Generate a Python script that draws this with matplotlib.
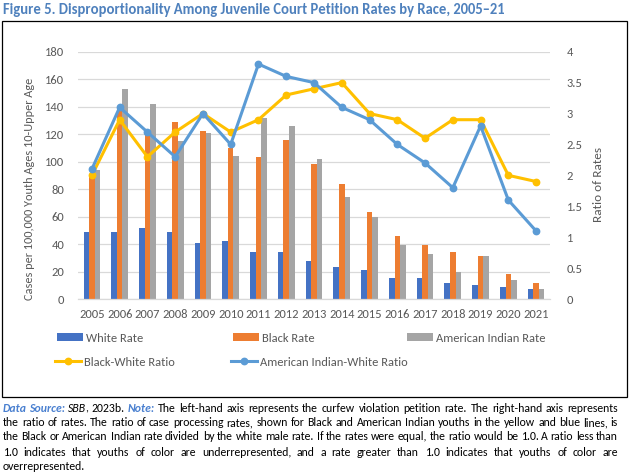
import matplotlib
matplotlib.use("Agg")
import matplotlib.pyplot as plt
from matplotlib import font_manager
from matplotlib.patches import Rectangle, Patch
from matplotlib.lines import Line2D
import numpy as np

# ---------------- data ----------------
years = [str(y) for y in range(2005, 2022)]
white_rate = [49, 49, 52, 49, 41, 42, 34, 34, 28, 23, 21, 15, 15, 12, 10, 9, 7]
black_rate = [90, 138, 121, 129, 122, 110, 103, 116, 98, 84, 63, 46, 39, 34, 31, 18, 12]
ai_rate = [94, 153, 142, 115, 121, 104, 132, 126, 102, 74, 60, 39, 33, 20, 31, 14, 7]
bw_ratio = [2.0, 2.9, 2.3, 2.7, 3.0, 2.7, 2.9, 3.3, 3.4, 3.5, 3.0, 2.9, 2.6, 2.9, 2.9, 2.0, 1.9]
aiw_ratio = [2.1, 3.1, 2.7, 2.3, 3.0, 2.5, 3.8, 3.6, 3.5, 3.1, 2.9, 2.5, 2.2, 1.8, 2.8, 1.6, 1.1]
left_ticks = list(range(0, 181, 20))
right_ticks = [0, 0.5, 1, 1.5, 2, 2.5, 3, 3.5, 4]
right_tick_labels = ["0", "0.5", "1", "1.5", "2", "2.5", "3", "3.5", "4"]

# ---------------- fonts ----------------
def pick_font(cands):
    for c in cands:
        try:
            font_manager.findfont(font_manager.FontProperties(family=c), fallback_to_default=False)
            return c
        except Exception:
            pass
    return "DejaVu Sans"

FONT = pick_font(["Carlito", "Liberation Sans Narrow", "Liberation Sans"])
plt.rcParams["font.family"] = [FONT, "DejaVu Sans"]

W, H = 633, 474
DPI = 100
fig = plt.figure(figsize=(W / DPI, H / DPI), dpi=DPI)

def fx(px):
    return px / W

def fy(py):
    return 1 - py / H

GRAY_TXT = "#595959"
GRID = "#D9D9D9"
C_WHITE = "#4472C4"
C_BLACK = "#ED7D31"
C_AI = "#A5A5A5"
C_BW = "#FFC000"
C_AIW = "#5B9BD5"
TITLE_BLUE = "#4F81BD"
NOTE_BLUE = "#4A80D0"

# frame box
fig.add_artist(Rectangle((fx(2), fy(397)), fx(627) - fx(2), fy(21) - fy(397),
                         transform=fig.transFigure, fill=False, edgecolor="black", linewidth=0.9))

# title
fig.text(fx(3), fy(10), "Figure 5. Disproportionality Among Juvenile Court Petition Rates by Race, 2005\u201321",
         fontsize=10.5, fontweight="bold", color=TITLE_BLUE, ha="left", va="center")

# ---------------- axes ----------------
left, right, top, bottom = 78, 550, 51.7, 299
ax = fig.add_axes([fx(left), fy(bottom), fx(right) - fx(left), fy(top) - fy(bottom)])
x = np.arange(len(years))
bw = 0.2
ax.bar(x - bw, white_rate, bw, color=C_WHITE, zorder=2)
ax.bar(x, black_rate, bw, color=C_BLACK, zorder=2)
ax.bar(x + bw, ai_rate, bw, color=C_AI, zorder=2)
ax.set_xlim(-0.5, len(years) - 0.5)
ax.set_ylim(0, 180)
ax.set_yticks(left_ticks)
ax.set_xticks(x)
ax.set_xticklabels(years)
ax.yaxis.grid(True, color=GRID, linewidth=0.9, zorder=0)
ax.set_axisbelow(True)
for s in ["top", "right", "left"]:
    ax.spines[s].set_visible(False)
ax.spines["bottom"].set_color(GRID)
ax.spines["bottom"].set_linewidth(0.9)
ax.tick_params(axis="both", length=0, labelsize=9, colors=GRAY_TXT)
ax.tick_params(axis="y", pad=10)
ax.tick_params(axis="x", pad=7)

ax2 = ax.twinx()
ax2.plot(x, bw_ratio, color=C_BW, linewidth=2.2, marker="o", markersize=4.6, zorder=3)
ax2.plot(x, aiw_ratio, color=C_AIW, linewidth=2.2, marker="o", markersize=4.6, zorder=3)
ax2.set_ylim(0, 4)
ax2.set_yticks(right_ticks)
ax2.set_yticklabels(right_tick_labels)
for s in ["top", "right", "left", "bottom"]:
    ax2.spines[s].set_visible(False)
ax2.tick_params(axis="y", length=0, labelsize=9, colors=GRAY_TXT, pad=12)

fig.text(fx(30), fy(189), "Cases per 100,000 Youth Ages 10-Upper Age", rotation=90,
         fontsize=8.8, color=GRAY_TXT, ha="center", va="center")
fig.text(fx(598), fy(184), "Ratio of Rates", rotation=90,
         fontsize=9.5, color=GRAY_TXT, ha="center", va="center")

# ---------------- legend ----------------
entries = [
    (Patch(facecolor=C_WHITE), "White Rate", 57, 338),
    (Patch(facecolor=C_BLACK), "Black Rate", 233, 338),
    (Patch(facecolor=C_AI), "American Indian Rate", 407, 338),
    (Line2D([], [], color=C_BW, linewidth=2.2, marker="o", markersize=4.6), "Black-White Ratio", 55, 362),
    (Line2D([], [], color=C_AIW, linewidth=2.2, marker="o", markersize=4.6), "American Indian-White Ratio", 231, 362),
]
for h, lab, px, py in entries:
    lg = fig.legend(handles=[h], labels=[lab], loc="center left", bbox_to_anchor=(fx(px), fy(py)),
                    frameon=False, fontsize=9, handlelength=2.1, handletextpad=0.25,
                    borderpad=0, borderaxespad=0, handleheight=0.6)
    for t in lg.get_texts():
        t.set_color(GRAY_TXT)

# ---------------- caption (justified) ----------------
N = dict(style="normal", weight="normal", color="black")
I = dict(style="italic", weight="normal", color="black")
BI = dict(style="italic", weight="bold", color=NOTE_BLUE)

def words(s, st):
    return [[(w, st)] for w in s.split()]

cap_lines = [
    [[("Data", BI)], [("Source:", BI)], [("SBB", I), (",", N)], [("2023b.", N)], [("Note:", BI)]]
    + words("The left-hand axis represents the curfew violation petition rate. The right-hand axis represents", N),
    words("the ratio of rates. The ratio of case processing rates, shown for Black and American Indian youths in the yellow and blue lines, is", N),
    words("the Black or American Indian rate divided by the white male rate. If the rates were equal, the ratio would be 1.0. A ratio less than", N),
    words("1.0 indicates that youths of color are underrepresented, and a rate greater than 1.0 indicates that youths of color are", N),
    words("overrepresented.", N),
]
cap_y = [408, 423, 437, 452, 466]
CAP_FS = 8.5
cap_left, cap_right = 3, 618

renderer = fig.canvas.get_renderer()

def piece_width(txt, st):
    t = fig.text(0, 0, txt, fontsize=CAP_FS, fontstyle=st["style"], fontweight=st["weight"])
    w = t.get_window_extent(renderer=renderer).width
    t.remove()
    if st["style"] == "italic":
        w -= 1.2
    return w

for li, (line, py) in enumerate(zip(cap_lines, cap_y)):
    widths = [[piece_width(t, st) for t, st in wd] for wd in line]
    total = sum(sum(w) for w in widths)
    last = li == len(cap_lines) - 1
    if last or len(line) < 2:
        gap = piece_width("a b", N) - piece_width("ab", N)
    else:
        gap = (cap_right - cap_left - total) / (len(line) - 1)
    cx = cap_left
    for wd, ws in zip(line, widths):
        px = cx
        for (t, st), w in zip(wd, ws):
            fig.text(fx(px), fy(py), t, fontsize=CAP_FS, fontstyle=st["style"], fontweight=st["weight"],
                     color=st["color"], ha="left", va="center")
            px += w
        cx += sum(ws) + gap

fig.savefig("out.png", dpi=DPI)
